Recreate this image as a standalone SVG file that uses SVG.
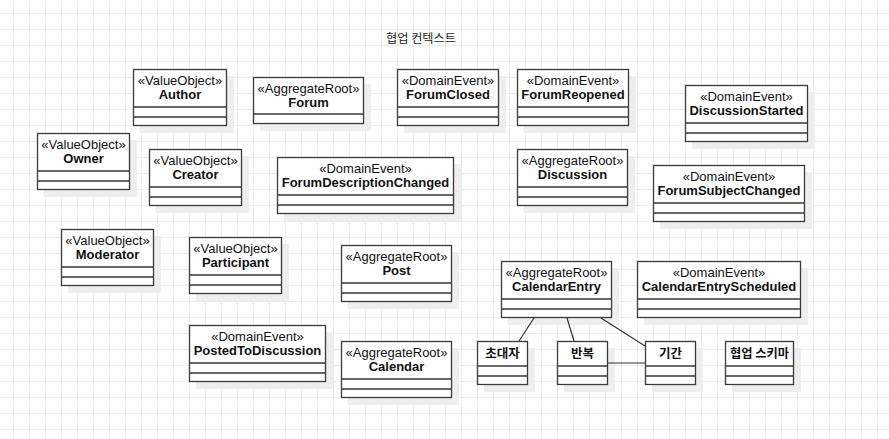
<svg xmlns="http://www.w3.org/2000/svg" width="889" height="439" viewBox="0 0 889 439">
<style>
.sh{fill:#eeeeee;stroke:none}
.bx{fill:#ffffff;stroke:#3a3a3a;stroke-width:1.3}
.sep{stroke:#3a3a3a;stroke-width:1.3;fill:none}
.st{font-family:"Liberation Sans","Noto Sans CJK KR",sans-serif;font-size:13px;fill:#111;text-anchor:middle}
.nm{font-family:"Liberation Sans","Noto Sans CJK KR",sans-serif;font-size:13px;font-weight:bold;fill:#111;text-anchor:middle}
.ko{font-family:"Noto Sans CJK KR","Liberation Sans",sans-serif;font-size:12.5px;font-weight:bold;fill:#111;text-anchor:middle}
.ttl{font-family:"Noto Sans CJK KR","Liberation Sans",sans-serif;font-size:12px;fill:#222;text-anchor:middle}
.cn{stroke:#333;stroke-width:1.2;fill:none}
</style>
<defs>
<pattern id="grid" x="13" y="13" width="16" height="16" patternUnits="userSpaceOnUse">
<path d="M0.5 0V16M0 0.5H16" stroke="#ebebeb" stroke-width="1" fill="none"/>
</pattern>
</defs>
<rect width="889" height="439" fill="#ffffff"/>
<rect width="889" height="439" fill="url(#grid)"/>
<text class="ttl" x="421" y="43" textLength="70" lengthAdjust="spacingAndGlyphs">협업 컨텍스트</text>

<g id="author">
<rect class="sh" x="140" y="76" width="94" height="57"/>
<rect class="bx" x="133.5" y="69.5" width="93" height="56"/>
<path class="sep" d="M133.5 107H226.5M133.5 117H226.5"/>
<text class="st" x="180" y="84.5">«ValueObject»</text>
<text class="nm" x="180" y="98.5">Author</text>
</g>

<g id="owner">
<rect class="sh" x="44" y="140" width="93" height="57"/>
<rect class="bx" x="37.5" y="133.5" width="92" height="56"/>
<path class="sep" d="M37.5 171H129.5M37.5 181H129.5"/>
<text class="st" x="83.5" y="148.5">«ValueObject»</text>
<text class="nm" x="83.5" y="162.5">Owner</text>
</g>

<g id="creator">
<rect class="sh" x="156" y="156" width="93" height="57"/>
<rect class="bx" x="149.5" y="149.5" width="92" height="56"/>
<path class="sep" d="M149.5 187H241.5M149.5 197H241.5"/>
<text class="st" x="195.5" y="164.5">«ValueObject»</text>
<text class="nm" x="195.5" y="178.5">Creator</text>
</g>

<g id="forum">
<rect class="sh" x="260" y="84" width="111" height="47"/>
<rect class="bx" x="253.5" y="77.5" width="110" height="46"/>
<path class="sep" d="M253.5 114H363.5"/>
<text class="st" x="308.5" y="92.5">«AggregateRoot»</text>
<text class="nm" x="308.5" y="106.5">Forum</text>
</g>

<g id="forumClosed">
<rect class="sh" x="404" y="76" width="102" height="57"/>
<rect class="bx" x="397.5" y="69.5" width="101" height="56"/>
<path class="sep" d="M397.5 107H498.5M397.5 117H498.5"/>
<text class="st" x="448" y="84.5">«DomainEvent»</text>
<text class="nm" x="448" y="98.5">ForumClosed</text>
</g>

<g id="forumReopened">
<rect class="sh" x="524" y="76" width="112" height="57"/>
<rect class="bx" x="517.5" y="69.5" width="111" height="56"/>
<path class="sep" d="M517.5 107H628.5M517.5 117H628.5"/>
<text class="st" x="573" y="84.5">«DomainEvent»</text>
<text class="nm" x="573" y="98.5">ForumReopened</text>
</g>

<g id="discussionStarted">
<rect class="sh" x="692" y="92" width="123" height="57"/>
<rect class="bx" x="685.5" y="85.5" width="122" height="56"/>
<path class="sep" d="M685.5 123H807.5M685.5 133H807.5"/>
<text class="st" x="746.5" y="100.5">«DomainEvent»</text>
<text class="nm" x="746.5" y="114.5">DiscussionStarted</text>
</g>

<g id="forumDescriptionChanged">
<rect class="sh" x="284" y="164" width="177" height="57"/>
<rect class="bx" x="277.5" y="157.5" width="176" height="56"/>
<path class="sep" d="M277.5 195H453.5M277.5 205H453.5"/>
<text class="st" x="365.5" y="172.5">«DomainEvent»</text>
<text class="nm" x="365.5" y="186.5">ForumDescriptionChanged</text>
</g>

<g id="discussion">
<rect class="sh" x="524" y="156" width="111" height="57"/>
<rect class="bx" x="517.5" y="149.5" width="110" height="56"/>
<path class="sep" d="M517.5 187H627.5M517.5 197H627.5"/>
<text class="st" x="572.5" y="164.5">«AggregateRoot»</text>
<text class="nm" x="572.5" y="178.5">Discussion</text>
</g>

<g id="forumSubjectChanged">
<rect class="sh" x="660" y="172" width="152" height="57"/>
<rect class="bx" x="653.5" y="165.5" width="151" height="56"/>
<path class="sep" d="M653.5 203H804.5M653.5 213H804.5"/>
<text class="st" x="729" y="180.5">«DomainEvent»</text>
<text class="nm" x="729" y="194.5">ForumSubjectChanged</text>
</g>

<g id="moderator">
<rect class="sh" x="68" y="236" width="93" height="57"/>
<rect class="bx" x="61.5" y="229.5" width="92" height="56"/>
<path class="sep" d="M61.5 267H153.5M61.5 277H153.5"/>
<text class="st" x="107.5" y="244.5">«ValueObject»</text>
<text class="nm" x="107.5" y="258.5">Moderator</text>
</g>

<g id="participant">
<rect class="sh" x="196" y="244" width="93" height="57"/>
<rect class="bx" x="189.5" y="237.5" width="92" height="56"/>
<path class="sep" d="M189.5 275H281.5M189.5 285H281.5"/>
<text class="st" x="235.5" y="252.5">«ValueObject»</text>
<text class="nm" x="235.5" y="266.5">Participant</text>
</g>

<g id="post">
<rect class="sh" x="348" y="252" width="111" height="57"/>
<rect class="bx" x="341.5" y="245.5" width="110" height="56"/>
<path class="sep" d="M341.5 283H451.5M341.5 293H451.5"/>
<text class="st" x="396.5" y="260.5">«AggregateRoot»</text>
<text class="nm" x="396.5" y="274.5">Post</text>
</g>

<g id="postedToDiscussion">
<rect class="sh" x="196" y="332" width="137" height="57"/>
<rect class="bx" x="189.5" y="325.5" width="136" height="56"/>
<path class="sep" d="M189.5 363H325.5M189.5 373H325.5"/>
<text class="st" x="257.5" y="340.5">«DomainEvent»</text>
<text class="nm" x="257.5" y="354.5">PostedToDiscussion</text>
</g>

<g id="calendar">
<rect class="sh" x="348" y="348" width="111" height="57"/>
<rect class="bx" x="341.5" y="341.5" width="110" height="56"/>
<path class="sep" d="M341.5 379H451.5M341.5 389H451.5"/>
<text class="st" x="396.5" y="356.5">«AggregateRoot»</text>
<text class="nm" x="396.5" y="370.5">Calendar</text>
</g>

<g id="calendarEntry">
<rect class="sh" x="508" y="268" width="111" height="57"/>
<rect class="bx" x="501.5" y="261.5" width="110" height="56"/>
<path class="sep" d="M501.5 299H611.5M501.5 309H611.5"/>
<text class="st" x="556.5" y="276.5">«AggregateRoot»</text>
<text class="nm" x="556.5" y="290.5">CalendarEntry</text>
</g>

<g id="calendarEntryScheduled">
<rect class="sh" x="644" y="268" width="164" height="57"/>
<rect class="bx" x="637.5" y="261.5" width="163" height="56"/>
<path class="sep" d="M637.5 299H800.5M637.5 309H800.5"/>
<text class="st" x="719" y="276.5">«DomainEvent»</text>
<text class="nm" x="719" y="290.5">CalendarEntryScheduled</text>
</g>

<g id="invitees">
<rect class="sh" x="484" y="348" width="51" height="44"/>
<rect class="bx" x="477.5" y="341.5" width="50" height="43"/>
<path class="sep" d="M477.5 366H527.5M477.5 376H527.5"/>
<text class="ko" x="502.5" y="358">초대자</text>
</g>

<g id="repetition">
<rect class="sh" x="564" y="348" width="51" height="44"/>
<rect class="bx" x="557.5" y="341.5" width="50" height="43"/>
<path class="sep" d="M557.5 366H607.5M557.5 376H607.5"/>
<text class="ko" x="582.5" y="358">반복</text>
</g>

<g id="period">
<rect class="sh" x="652" y="348" width="51" height="44"/>
<rect class="bx" x="645.5" y="341.5" width="50" height="43"/>
<path class="sep" d="M645.5 366H695.5M645.5 376H695.5"/>
<text class="ko" x="670.5" y="358">기간</text>
</g>

<g id="collabSchema">
<rect class="sh" x="732" y="348" width="69" height="44"/>
<rect class="bx" x="725.5" y="341.5" width="68" height="43"/>
<path class="sep" d="M725.5 366H793.5M725.5 376H793.5"/>
<text class="ko" x="759.5" y="358" textLength="59" lengthAdjust="spacingAndGlyphs">협업 스키마</text>
</g>

<g id="connectors">
<line class="cn" x1="534" y1="318" x2="519" y2="341"/>
<line class="cn" x1="567" y1="318" x2="574" y2="341"/>
<line class="cn" x1="601" y1="318" x2="645" y2="346"/>
<line class="cn" x1="608" y1="363" x2="645" y2="363"/>
</g>
</svg>
